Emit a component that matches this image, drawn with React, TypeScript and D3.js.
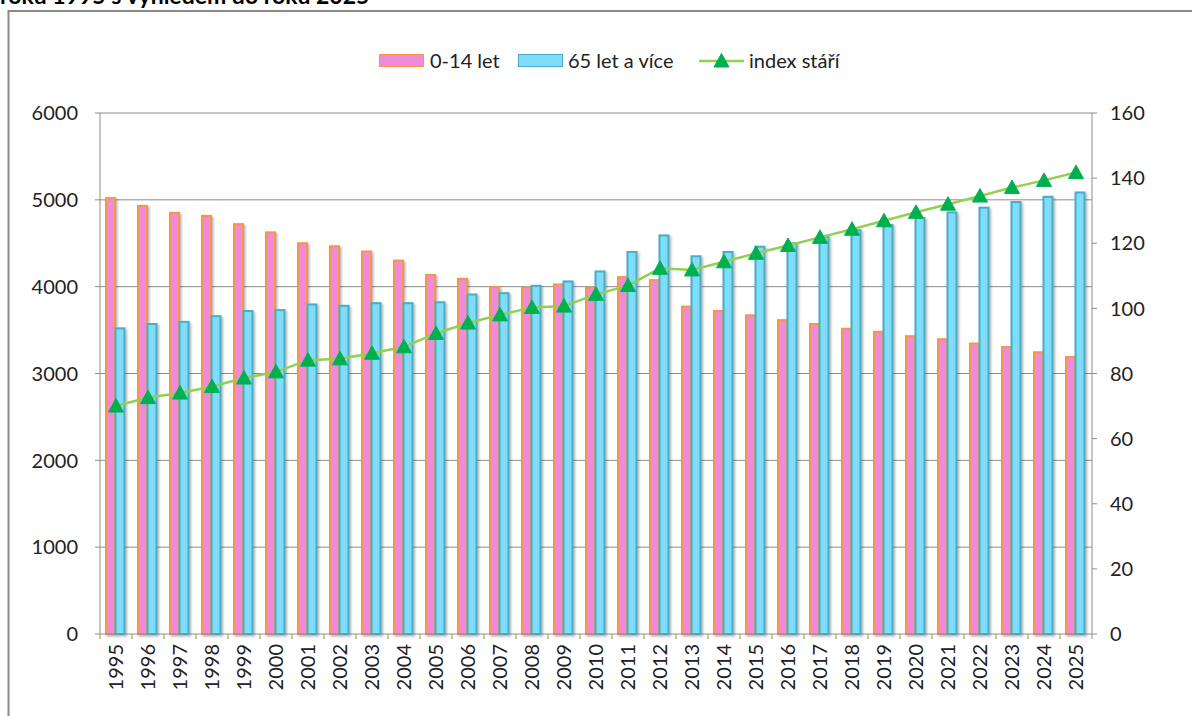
import React from 'react';
import * as d3 from 'd3';

// roky (kategorie osy x)
const years = [
  '1995', '1996', '1997', '1998', '1999', '2000', '2001', '2002', '2003', '2004', '2005',
  '2006', '2007', '2008', '2009', '2010', '2011', '2012', '2013', '2014', '2015',
  '2016', '2017', '2018', '2019', '2020', '2021', '2022', '2023', '2024', '2025',
];

// 0-14 let
const kids = [
  5020, 4930, 4850, 4815, 4720, 4625, 4500, 4465, 4405, 4300, 4135,
  4090, 3995, 3990, 4025, 3990, 4110, 4075, 3770, 3720, 3670,
  3615, 3570, 3515, 3480, 3430, 3395, 3345, 3305, 3245, 3190,
];

// 65 let a více
const seniors = [
  3520, 3570, 3595, 3660, 3720, 3730, 3795, 3780, 3810, 3810, 3820,
  3910, 3925, 4010, 4060, 4175, 4400, 4590, 4350, 4400, 4460,
  4500, 4575, 4650, 4710, 4790, 4855, 4910, 4975, 5035, 5085,
];

// index stáří (pravá osa)
const ageIndex = [
  70, 72.6, 74, 76, 78.6, 80.5, 84.1, 84.5, 86.2, 88.2, 92.3,
  95.5, 98, 100.3, 100.7, 104.3, 107, 112.3, 111.8, 114.3, 116.9,
  119.3, 121.8, 124.3, 126.9, 129.5, 132, 134.5, 137.1, 139.3, 141.7,
];

const leftTicks = [0, 1000, 2000, 3000, 4000, 5000, 6000];
const rightTicks = [0, 20, 40, 60, 80, 100, 120, 140, 160];

const W = 1192;
const H = 716;
const FONT = 'Lato, "Open Sans", sans-serif';
const FS = 20;

const PINK = '#EF8BDA';
const PINK_EDGE = '#F79646';
const BLUE = '#7FDDFB';
const BLUE_EDGE = '#4BACC6';
const LINE = '#92D050';
const MARK = '#00B050';
const GRID = '#8C8C8C';

function triangle(cx: number, cy: number, s = 7.5) {
  return `M${cx},${cy - s}L${cx + s},${cy + s * 0.8}L${cx - s},${cy + s * 0.8}Z`;
}

export default function App() {
  const plot = { left: 100, right: 1092, top: 113, bottom: 634 };

  const x = d3.scaleBand<string>().domain(years).range([plot.left, plot.right]).padding(0);
  const yL = d3.scaleLinear().domain([0, 6000]).range([plot.bottom, plot.top]);
  const yR = d3.scaleLinear().domain([0, 160]).range([plot.bottom, plot.top]);

  const barW = 9;
  const cx = (y: string) => (x(y) as number) + x.bandwidth() / 2;

  const line = d3.line<number>()
    .x((_, i) => cx(years[i]))
    .y(d => yR(d));

  const catEdges = [...years.map(y => x(y) as number), plot.right];

  return (
    <svg width={W} height={H} style={{ position: 'absolute', left: 0, top: 0, background: '#fff' }}>
      <defs>
        <filter id="shadow" x="-50%" y="-10%" width="200%" height="120%">
          <feDropShadow dx="1.5" dy="1.5" stdDeviation="1.2" floodColor="#000" floodOpacity="0.3" />
        </filter>
      </defs>

      {/* useknutý nadpis */}
      <text x={0} y={4} fontFamily={FONT} fontSize={23} fontWeight="bold" fill="#000">
        roku 1995 s výhledem do roku 2025
      </text>

      {/* rámeček grafu */}
      <rect x={8.5} y={11} width={1300} height={800} fill="none" stroke="#8a8a8a" strokeWidth={2} />

      {/* mřížka */}
      {leftTicks.slice(1).map(t => (
        <line key={t} x1={plot.left} x2={plot.right} y1={yL(t)} y2={yL(t)} stroke={GRID} strokeWidth={1} />
      ))}

      {/* sloupce */}
      {years.map((y, i) => (
        <g key={y} filter="url(#shadow)">
          <rect
            x={cx(y) - 10} y={yL(kids[i])} width={barW} height={plot.bottom - yL(kids[i])}
            fill={PINK} stroke={PINK_EDGE} strokeWidth={2}
          />
          <rect
            x={cx(y) - 0.5} y={yL(seniors[i])} width={barW} height={plot.bottom - yL(seniors[i])}
            fill={BLUE} stroke={BLUE_EDGE} strokeWidth={2}
          />
        </g>
      ))}

      {/* osy */}
      <line x1={plot.left} x2={plot.left} y1={plot.top} y2={plot.bottom} stroke={GRID} />
      <line x1={plot.right} x2={plot.right} y1={plot.top} y2={plot.bottom} stroke={GRID} />
      <line x1={plot.left} x2={plot.right} y1={plot.bottom} y2={plot.bottom} stroke={GRID} />

      {leftTicks.map(t => (
        <g key={t}>
          <line x1={plot.left - 5} x2={plot.left} y1={yL(t)} y2={yL(t)} stroke={GRID} />
          <text x={78} y={yL(t)} dy="0.36em" textAnchor="end" fontFamily={FONT} fontSize={FS} fill="#222">{t}</text>
        </g>
      ))}
      {rightTicks.map(t => (
        <g key={t}>
          <line x1={plot.right} x2={plot.right + 5} y1={yR(t)} y2={yR(t)} stroke={GRID} />
          <text x={1110} y={yR(t)} dy="0.36em" textAnchor="start" fontFamily={FONT} fontSize={FS} fill="#222">{t}</text>
        </g>
      ))}
      {catEdges.map((e, i) => (
        <line key={i} x1={e} x2={e} y1={plot.bottom} y2={plot.bottom + 5} stroke={GRID} />
      ))}
      {years.map(y => (
        <text
          key={y}
          transform={`translate(${cx(y)},${plot.bottom + 10}) rotate(-90)`}
          dy="0.36em" textAnchor="end" fontFamily={FONT} fontSize={FS} fill="#222"
        >{y}</text>
      ))}

      {/* index stáří */}
      <path d={line(ageIndex) ?? ''} fill="none" stroke={LINE} strokeWidth={2.5} />
      {ageIndex.map((v, i) => (
        <path key={i} d={triangle(cx(years[i]), yR(v))} fill={MARK} stroke={MARK} strokeWidth={1} strokeLinejoin="round" />
      ))}

      {/* legenda */}
      <g fontFamily={FONT} fontSize={FS} fill="#222">
        <rect x={379.5} y={54.5} width={44} height={12} fill={PINK} stroke={PINK_EDGE} strokeWidth={1} />
        <text x={430} y={61} dy="0.36em">0-14 let</text>
        <rect x={518.5} y={54.5} width={44} height={12} fill={BLUE} stroke={BLUE_EDGE} strokeWidth={1} />
        <text x={568} y={61} dy="0.36em">65 let a více</text>
        <line x1={699} x2={744} y1={61} y2={61} stroke={LINE} strokeWidth={2.5} />
        <path d={triangle(721.5, 61)} fill={MARK} stroke={MARK} strokeLinejoin="round" />
        <text x={749} y={61} dy="0.36em">index stáří</text>
      </g>
    </svg>
  );
}
